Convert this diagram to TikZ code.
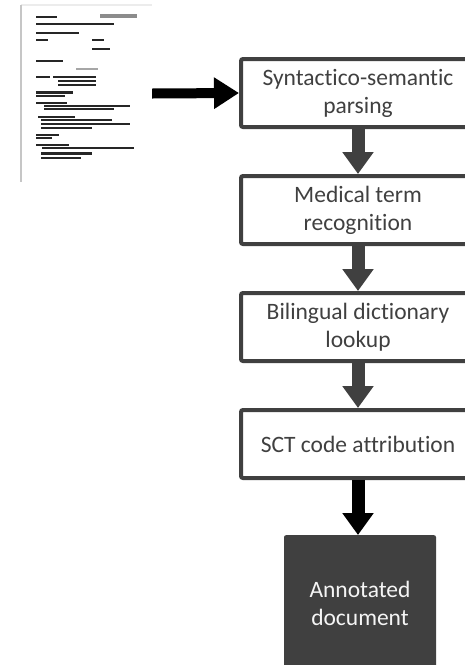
\documentclass[tikz,border=0pt]{standalone}
\usepackage{fontspec}
\setmainfont{Carlito}[Ligatures=NoCommon]
\usepackage{xcolor}
\usetikzlibrary{arrows.meta,positioning}
\definecolor{boxgray}{HTML}{404040}

\begin{document}
\begin{tikzpicture}[x=1pt,y=-1pt,
  stage/.style={draw=boxgray,line width=4pt,fill=white,rounded corners=2pt,
    minimum width=234pt,minimum height=68pt,align=center,text=boxgray,
    font=\fontsize{23.5}{28}\selectfont},
  flow/.style={line width=13pt,-{Triangle[width=30pt,length=22pt]}}]
\useasboundingbox (0,0) rectangle (465,665);
\clip (0,0) rectangle (465,665);

% Input document (scanned page)
\node[minimum width=131pt,minimum height=177pt,inner sep=0pt] (page) at (86.5,93.5) {};
\draw[gray!15,line width=2pt] (page.north west) -- (page.north east);
\draw[gray!45,line width=1.5pt] (page.north west) -- (page.south west);
\draw[black!45,line width=4pt] (100,16) -- (137,16);
\foreach \y/\a/\b/\w in {17/36/57/1.5, 24/36/114/1.8, 33/36/79/2.5, 40/36/48/1.5,
    40/92/104/1.5, 49/92/110/1.5, 61/36/63/2, 77/36/50/1.5, 77/53/96/2, 81/58/96/2,
    85/58/96/2, 92/36/73/3, 96/36/65/2, 103/36/67/2, 106/44/130/2, 109/44/114/2,
    117/38/75/2.5, 120/41/112/2, 124/41/130/2, 128/41/92/2, 135/36/59/2, 138/36/52/1.5,
    145/36/69/2.5, 148/42/134/2, 153/41/92/3, 158/41/81/2.5}
  \draw[black!85,line width=\w pt] (\a,\y) -- (\b,\y);
\draw[black!35,line width=1.5pt] (76,69) -- (98,69);

% Processing stages
\node[stage] (parse) at (358,93) {Syntactico-semantic\\parsing};
\node[stage,below=45pt of parse] (term) {Medical term\\recognition};
\node[stage,below=45pt of term] (dict) {Bilingual dictionary\\lookup};
\node[stage,below=45pt of dict] (sct) {SCT code attribution};
\node[fill=boxgray,rounded corners=2pt,minimum width=152pt,minimum height=136pt,
  align=center,text=white!92!gray,font=\fontsize{23.5}{28}\selectfont,
  below=55pt of sct,xshift=2pt] (out) {Annotated\\document};

% Connectors
\draw[black,line width=10pt,-{Triangle[width=30pt,length=25pt]}] (page.east) -- (parse.west);
\draw[flow,boxgray] (parse) -- (term);
\draw[flow,boxgray] (term) -- (dict);
\draw[flow,boxgray] (dict) -- (sct);
\draw[flow,black] (sct.south) -- (sct.south |- out.north);
\end{tikzpicture}
\end{document}
